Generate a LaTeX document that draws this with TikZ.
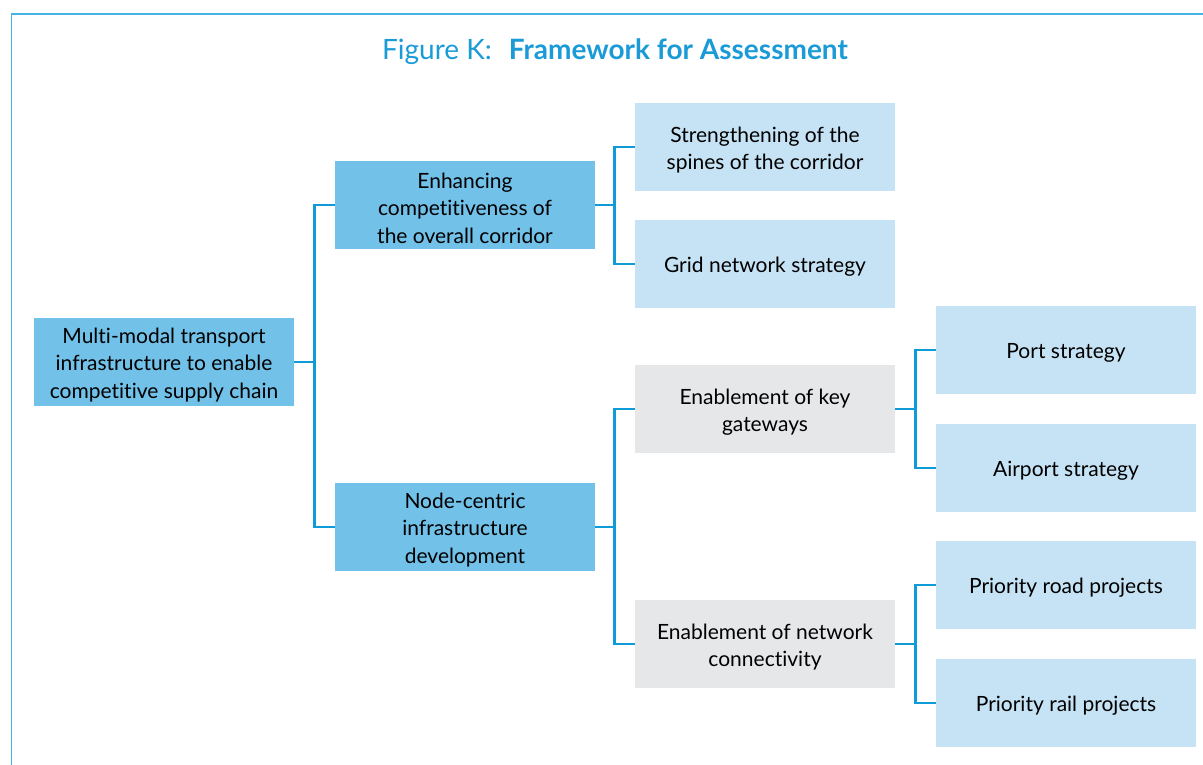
\documentclass[tikz,border=0pt]{standalone}
\usepackage{fontspec}
\setmainfont{Lato}[Ligatures=CommonOff]
\definecolor{linecol}{HTML}{0E9BD8}
\definecolor{framecol}{HTML}{45B3E4}
\definecolor{midblue}{HTML}{71C1E9}
\definecolor{lightblue}{HTML}{C6E3F5}
\definecolor{greybox}{HTML}{E6E7E9}
\definecolor{titlecol}{HTML}{1A9BD7}
\newcommand{\boxtext}[1]{\raisebox{-3pt}[\height][\depth]{\parbox{256pt}{\centering #1}}}
\tikzset{
  box/.style={minimum width=260pt, minimum height=88pt, inner sep=0pt,
    font=\fontsize{21}{27.5}\selectfont, text=black},
  lvlA/.style={box, fill=midblue},
  lvlL/.style={box, fill=lightblue},
  lvlG/.style={box, fill=greybox},
  conn/.style={draw=linecol, line width=2.5pt},
}
\begin{document}
\begin{tikzpicture}[x=1pt,y=1pt]
\useasboundingbox (0,0) rectangle (1203,-765);
\draw[framecol, line width=1.6pt] (11.5,-765) -- (11.5,-14) -- (1203,-14);
\node[font=\fontsize{28}{32}\selectfont, text=titlecol, anchor=base] (title) at (615,-60)
  {Figure K:\hspace{0.35em} \textbf{Framework for Assessment}};

\node[lvlA] (root) at (164,-362) {\boxtext{Multi-modal transport\\infrastructure to enable\\competitive supply chain}};
\node[lvlA] (enh) at (465,-205) {\boxtext{Enhancing\\competitiveness of\\the overall corridor}};
\node[lvlA] (nc) at (465,-527) {\boxtext{Node-centric\\infrastructure\\development}};
\node[lvlL] (spine) at (765,-147) {\boxtext{Strengthening of the\\spines of the corridor}};
\node[lvlL] (grid) at (765,-264) {\boxtext{Grid network strategy}};
\node[lvlG] (gate) at (765,-409) {\boxtext{Enablement of key\\gateways}};
\node[lvlG] (netc) at (765,-644) {\boxtext{Enablement of network\\connectivity}};
\node[lvlL] (port) at (1066,-350) {\boxtext{Port strategy}};
\node[lvlL] (air) at (1066,-468) {\boxtext{Airport strategy}};
\node[lvlL] (road) at (1066,-585) {\boxtext{Priority road projects}};
\node[lvlL] (rail) at (1066,-703) {\boxtext{Priority rail projects}};

\draw[conn] (root.east) -- ++(20.5,0);
\draw[conn] (enh.west) -- ++(-20.5,0) |- (nc.west);
\draw[conn] (enh.east) -- ++(19.5,0);
\draw[conn] (spine.west) -- ++(-20.5,0) |- (grid.west);
\draw[conn] (nc.east) -- ++(19.5,0);
\draw[conn] (gate.west) -- ++(-20.5,0) |- (netc.west);
\draw[conn] (gate.east) -- ++(20.5,0);
\draw[conn] (port.west) -- ++(-20.5,0) |- (air.west);
\draw[conn] (netc.east) -- ++(20.5,0);
\draw[conn] (road.west) -- ++(-20.5,0) |- (rail.west);
\end{tikzpicture}
\end{document}
